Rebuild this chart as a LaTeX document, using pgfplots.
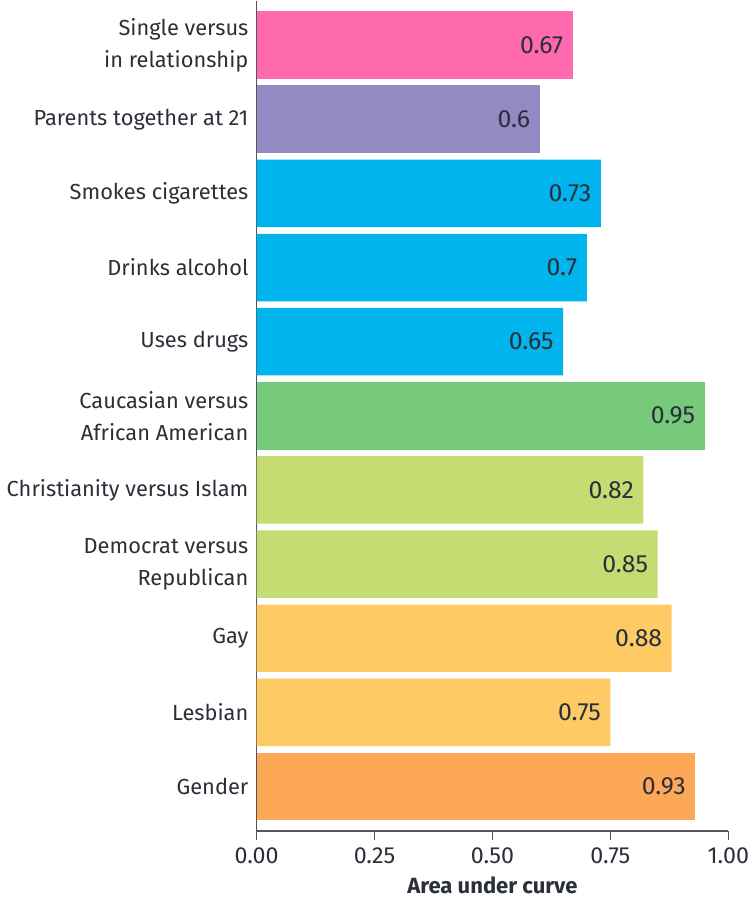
\documentclass[border=0pt]{standalone}
\usepackage{pgfplots}
\pgfplotsset{compat=1.18}
\usepackage{fontspec}
\setmainfont{Fira Sans}[BoldFont={Fira Sans Bold}]
\definecolor{cpink}{HTML}{FF69AE}
\definecolor{cpurple}{HTML}{9589C4}
\definecolor{ccyan}{HTML}{00B5EE}
\definecolor{cgreen}{HTML}{77C97B}
\definecolor{clgreen}{HTML}{C5DC72}
\definecolor{cyellow}{HTML}{FDCA64}
\definecolor{corange}{HTML}{FDA856}
\definecolor{txt}{HTML}{2B2F38}
\definecolor{axc}{HTML}{555555}
\begin{document}
\begin{tikzpicture}
\begin{axis}[
  scale only axis,
  width=233.5pt, height=411pt,
  xmin=0, xmax=1, ymin=-0.6, ymax=10.6,
  axis x line=bottom, axis y line=left,
  axis line style={axc, -, line width=0.6pt},
  xtick={0,0.25,0.5,0.75,1},
  xticklabels={0.00,0.25,0.50,0.75,1.00},
  ytick={0,...,10},
  yticklabels={Gender,Lesbian,Gay,{Democrat versus\\Republican},Christianity versus Islam,{Caucasian versus\\African American},Uses drugs,Drinks alcohol,Smokes cigarettes,Parents together at 21,{Single versus\\in relationship}},
  yticklabel style={align=right, font=\fontsize{10.8}{16}\selectfont, text=txt, xshift=4pt},
  xticklabel style={font=\fontsize{11.5}{14}\selectfont, text=txt},
  /pgf/number format/assume math mode=true,
  tick style={axc, line width=0.6pt},
  major tick length=4.5pt,
  tick align=outside,
  y tick style={draw=none},
  xlabel={\textbf{Area under curve}},
  xlabel style={font=\fontsize{10.9}{12}\selectfont, text=txt},
  xbar, bar width=0.91, bar shift=0pt,
  nodes near coords,
  point meta=explicit symbolic,
  every node near coord/.append style={anchor=east, xshift=-1.2pt, font=\fontsize{12.3}{14}\selectfont, text=txt},
  clip=false,
]
\addplot[draw=none, fill=cpink] coordinates {(0.67,10) [0.67]};
\addplot[draw=none, fill=cpurple] coordinates {(0.60,9) [0.6]};
\addplot[draw=none, fill=ccyan] coordinates {(0.73,8) [0.73] (0.70,7) [0.7] (0.65,6) [0.65]};
\addplot[draw=none, fill=cgreen] coordinates {(0.95,5) [0.95]};
\addplot[draw=none, fill=clgreen] coordinates {(0.82,4) [0.82] (0.85,3) [0.85]};
\addplot[draw=none, fill=cyellow] coordinates {(0.88,2) [0.88] (0.75,1) [0.75]};
\addplot[draw=none, fill=corange] coordinates {(0.93,0) [0.93]};
\end{axis}
\end{tikzpicture}
\end{document}
